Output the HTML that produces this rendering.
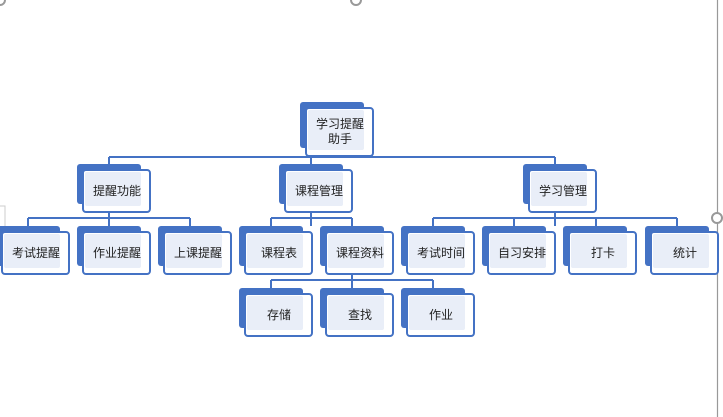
<!DOCTYPE html>
<html><head><meta charset="utf-8"><style>
html,body{margin:0;padding:0;background:#fff;width:723px;height:417px;overflow:hidden}
text{font-family:"Liberation Sans","Noto Sans CJK SC",sans-serif;font-size:12px;fill:#222;text-anchor:middle;dominant-baseline:central}
</style></head><body>
<svg width="723" height="417" viewBox="0 0 723 417" xmlns="http://www.w3.org/2000/svg">
<line x1="717.5" y1="0" x2="717.5" y2="417" stroke="#999" stroke-width="1.2"/>
<circle cx="356" cy="0" r="5" fill="#fff" stroke="#999" stroke-width="2"/>
<circle cx="0" cy="0" r="5" fill="#fff" stroke="#999" stroke-width="2"/>
<circle cx="717" cy="218" r="5" fill="#fff" stroke="#999" stroke-width="2"/>
<rect x="-3" y="206" width="8" height="24" fill="#fff" stroke="#ccc"/>
<g stroke="#4472c4" stroke-width="2" fill="none">
<path d="M109 157H555M109 157V164M311 157V164M555 157V164M333 151V157"/>
<path d="M28 218H190M28 218V226M109 212V226M190 218V226"/>
<path d="M271 218H352M271 218V226M311 212V226M352 218V226"/>
<path d="M433 218H677M433 218V226M514 218V226M555 212V226M596 218V226M677 218V226"/>
<path d="M271 280H433M271 280V288M352 274V288M433 280V288"/>
</g>
<g id="nodes"></g>
</svg>
<script>
var N=[[300,102,["学习提醒","助手"]],[77,164,["提醒功能"]],[279,164,["课程管理"]],[523,164,["学习管理"]],
[-4,226,["考试提醒"]],[77,226,["作业提醒"]],[158,226,["上课提醒"]],[239,226,["课程表"]],[320,226,["课程资料"]],
[401,226,["考试时间"]],[482,226,["自习安排"]],[563,226,["打卡"]],[645,226,["统计"]],
[239,288,["存储"]],[320,288,["查找"]],[401,288,["作业"]]];
var s='';N.forEach(function(n){var x=n[0],y=n[1],h=n[2].length>1?48:42;
s+='<rect x="'+x+'" y="'+y+'" width="64" height="'+(h-2)+'" rx="3" fill="#4472c4"/>';
s+='<rect x="'+(x+6)+'" y="'+(y+6)+'" width="67" height="'+h+'" rx="3" fill="#fff" stroke="#4472c4" stroke-width="2"/>';
s+='<rect x="'+(x+8)+'" y="'+(y+8)+'" width="56" height="'+(h-8)+'" rx="2" fill="#e9eef8"/>';
var cx=x+40,cy=y+6+h/2;
if(n[2].length>1){s+='<text x="'+cx+'" y="'+(cy-8)+'">'+n[2][0]+'</text><text x="'+cx+'" y="'+(cy+7)+'">'+n[2][1]+'</text>';}
else s+='<text x="'+cx+'" y="'+cy+'">'+n[2][0]+'</text>';});
document.getElementById('nodes').innerHTML=s;
</script>
</body></html>
